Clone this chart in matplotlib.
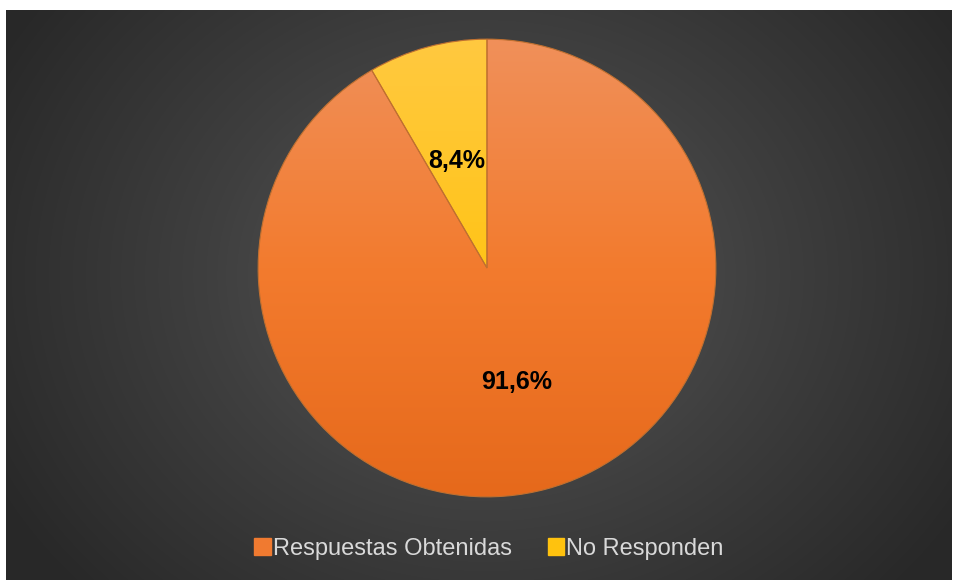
import matplotlib.pyplot as plt
import numpy as np
from matplotlib.colors import LinearSegmentedColormap

# Survey response data
labels = ["Respuestas Obtenidas", "No Responden"]
values = [91.6, 8.4]
pct_text = ["91,6%", "8,4%"]

# top / middle / bottom colours of each slice gradient
slice_colors = [["#F0905A", "#F37B2E", "#E6691B"],
                ["#FFC940", "#FFC418", "#F2B800"]]
legend_colors = ["#F07A30", "#FFC20E"]

plt.rcParams['font.family'] = ['Liberation Sans', 'DejaVu Sans']

W, H = 954, 583
fig = plt.figure(figsize=(W / 100, H / 100), dpi=100, facecolor="white")

# dark radial background panel
bg = fig.add_axes([6 / W, 3 / H, 946 / W, 570 / H])
bg.set_axis_off()
yy, xx = np.mgrid[0:570, 0:946]
cx, cy = 480, 265
r = np.sqrt(((xx - cx) / 560.0) ** 2 + ((yy - cy) / 470.0) ** 2)
r = np.clip(r, 0, 1)
bg_cmap = LinearSegmentedColormap.from_list("bg", ["#5a5a5a", "#3f3f3f", "#282828"])
bg.imshow(r, cmap=bg_cmap, aspect="auto", extent=[0, 946, 570, 0], vmin=0, vmax=1)

# pie axes, square in pixels
ax = fig.add_axes([257 / W, (583 - 498) / H, 460 / W, 460 / H])
ax.set_axis_off()
wedges, _ = ax.pie(values, startangle=90, counterclock=False, radius=1,
                   wedgeprops=dict(linewidth=0.8, edgecolor="#c07030"))

grad = np.linspace(0, 1, 256).reshape(-1, 1)
for w, cols in zip(wedges, slice_colors):
    cm = LinearSegmentedColormap.from_list("g", cols)
    im = ax.imshow(grad, cmap=cm, extent=[-1, 1, -1, 1], aspect="auto", zorder=w.get_zorder())
    im.set_clip_path(w)
    w.set_facecolor("none")
    w.set_zorder(w.get_zorder() + 0.5)
ax.set_xlim(-1.005, 1.005)
ax.set_ylim(-1.005, 1.005)

# percentage labels at half radius
start = 90.0
for v, t in zip(values, pct_text):
    mid = np.deg2rad(start - v * 3.6 / 2)
    ax.text(0.5 * np.cos(mid), 0.5 * np.sin(mid) - 0.015, t, ha="center", va="center",
            fontsize=18, fontweight="bold", color="black", zorder=5)
    start -= v * 3.6

# legend
handles = [plt.Rectangle((0, 0), 1, 1, color=c) for c in legend_colors]
fig.legend(handles, labels, loc="center", bbox_to_anchor=(489 / W, (583 - 549) / H),
           ncol=2, frameon=False, fontsize=17, labelcolor="#d9d9d9",
           handlelength=0.7, handleheight=0.7, handletextpad=0.1, columnspacing=1.5)

fig.savefig("out.png", dpi=100, facecolor="white")
